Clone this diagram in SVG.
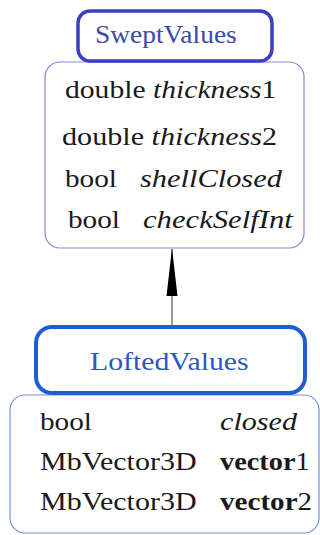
<svg xmlns="http://www.w3.org/2000/svg" width="320" height="535" viewBox="0 0 320 535">
<style>
text{font-family:'Liberation Serif','Times New Roman',serif;font-size:26px;fill:#1a1a1a}
.i{font-style:italic}
.b{font-weight:bold}
.title1{fill:#3d48a8}
.title2{fill:#2b58bf}
.body{fill:#fff;stroke-width:1.2}
</style>
<defs>
<marker id="ah" markerWidth="50" markerHeight="14" refX="49" refY="7" orient="auto" markerUnits="userSpaceOnUse" viewBox="0 0 50 14">
<path d="M50 7 L2 1.5 L2 12.5 Z" fill="#000"/>
</marker>
</defs>
<rect width="320" height="535" fill="#fff"/>
<g id="connectors">
<line x1="172" y1="326" x2="172" y2="249" stroke="#999" stroke-width="2" marker-end="url(#ah)"/>
</g>
<g id="SweptValues">
<rect class="body" x="45" y="62" width="259" height="186" rx="15" stroke="#8585d6"/>
<rect x="78" y="11" width="194" height="50" rx="12" fill="#fff" stroke="#3a40c0" stroke-width="3.5"/>
<text class="title1" transform="translate(95,43) scale(1.056,1)">SweptValues</text>
<text transform="translate(65,98) scale(1.14,1)">double <tspan class="i">thickness</tspan>1</text>
<text transform="translate(62,145) scale(1.16,1)">double <tspan class="i">thickness</tspan>2</text>
<text transform="translate(65,187) scale(1.125,1)">bool</text>
<text class="i" transform="translate(140,187) scale(1.17,1)">shellClosed</text>
<text transform="translate(68,228) scale(1.125,1)">bool</text>
<text class="i" transform="translate(143,228) scale(1.18,1)">checkSelfInt</text>
</g>
<g id="LoftedValues">
<rect class="body" x="10" y="395" width="309" height="138" rx="15" stroke="#7592da"/>
<rect x="36" y="327" width="269" height="66" rx="16" fill="#fff" stroke="#1c5ed6" stroke-width="4"/>
<text class="title2" transform="translate(90,370) scale(1.145,1)">LoftedValues</text>
<text transform="translate(40,430) scale(1.125,1)">bool</text>
<text class="i" transform="translate(220,430) scale(1.16,1)">closed</text>
<text transform="translate(40,470) scale(1.154,1)">MbVector3D</text>
<text transform="translate(220,470) scale(1.09,1)"><tspan class="b">vector</tspan>1</text>
<text transform="translate(40,510) scale(1.154,1)">MbVector3D</text>
<text transform="translate(220,510) scale(1.12,1)"><tspan class="b">vector</tspan>2</text>
</g>
</svg>
